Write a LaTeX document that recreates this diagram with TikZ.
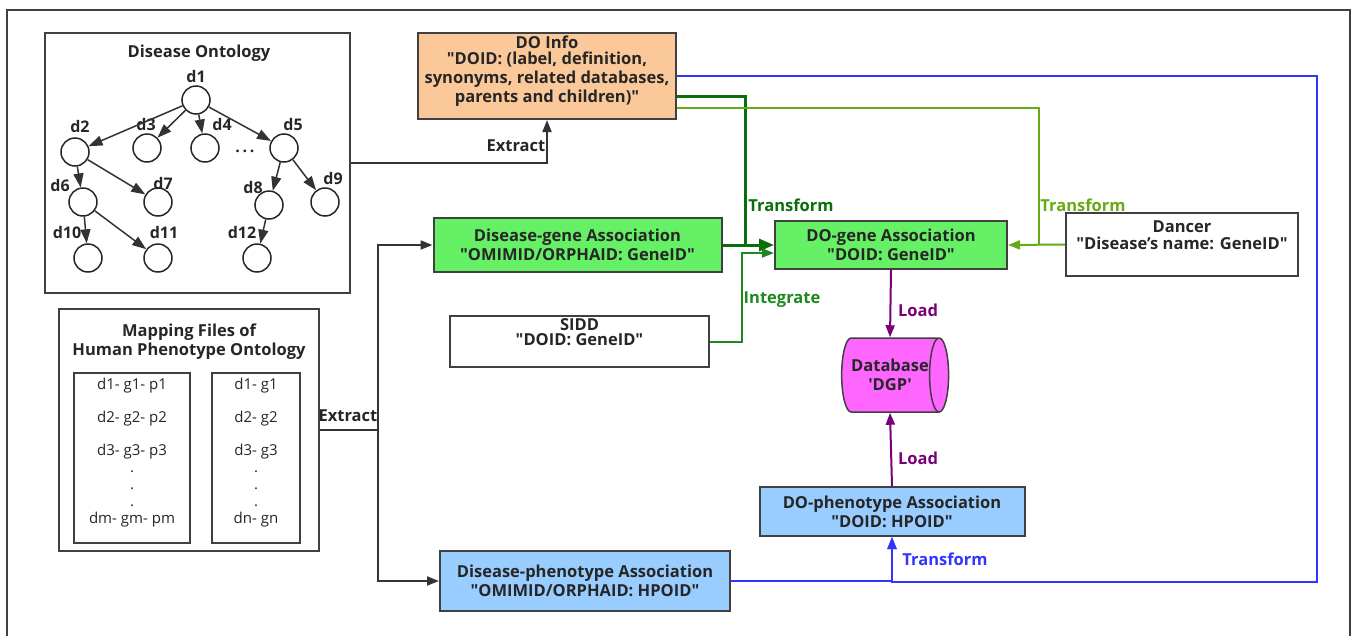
\documentclass[tikz,border=0pt]{standalone}
\usepackage{fontspec}
\setmainfont{Open Sans}
\usetikzlibrary{arrows.meta,shapes.geometric}

\definecolor{peach}{RGB}{251,200,154}
\definecolor{lgreen}{RGB}{102,240,102}
\definecolor{lblue}{RGB}{153,204,255}
\definecolor{magen}{RGB}{255,102,255}
\definecolor{dgreen}{RGB}{10,110,10}
\definecolor{mgreen}{RGB}{30,135,30}
\definecolor{ygreen}{RGB}{102,170,20}
\definecolor{ublue}{RGB}{51,51,255}
\definecolor{purp}{RGB}{120,0,120}
\definecolor{edge}{RGB}{64,64,64}

\newcommand{\qq}{\textquotedbl}
\newcommand{\qs}{\textquotesingle}

\tikzset{
  every node/.style={font=\bfseries\fontsize{16.5}{19}\selectfont, text=black!85},
  box/.style={draw=edge, line width=2, align=center, inner sep=0},
  circ/.style={draw=black!85, circle, line width=1.5, minimum size=28, inner sep=0},
  lab/.style={font=\bfseries\fontsize{16}{18}\selectfont},
  rows/.style={font=\fontsize{15}{17}\selectfont, align=center, inner sep=0, anchor=north},
  blk/.style={draw=black!80, line width=1.8}
}

\begin{document}
\begin{tikzpicture}[x=1pt,y=-1pt,>={Triangle[length=12pt,width=9pt]}]
\useasboundingbox (0,0) rectangle (1357,635);
\draw[edge, line width=1.5] (7,650) -- (7,10) -- (1350,10) -- (1350,650);

% disease ontology tree
\node[box, minimum width=305, minimum height=260] (onto) at (197.5,163) {};
\node (ontotitle) at (199,53) {Disease Ontology};
\foreach \n/\x/\y/\lx/\ly in {1/196/100/196/76, 2/75/152/80/126, 3/147/148/146/124,
  4/205/148/222/124, 5/284/148/293/124, 6/83/202/60/185, 7/158/202/163/183,
  8/269/205/253/187, 9/325/202/333/178, 10/88/258/67/232, 11/158/258/164/232,
  12/257/258/242/232}
{
  \node[circ] (d\n) at (\x,\y) {};
  \node[lab] (l\n) at (\lx,\ly) {d\n};
}
\node[lab] (dots) at (245,151) {.\,.\,.};
\foreach \a/\b in {1/2,1/3,1/4,1/5,2/6,2/7,5/8,5/9,6/10,6/11,8/12}
  \draw[-{Triangle[length=14pt,width=10pt]}, blk, line width=1.5] (d\a) -- (d\b);

% mapping files
\node[box, minimum width=260, minimum height=242] (map) at (189,430) {};
\node[align=center] (maptitle) at (189,342) {Mapping Files of\\Human Phenotype Ontology};
\node[box, line width=1.5, minimum width=116, minimum height=170] (mapL) at (132,458) {};
\node[box, line width=1.5, minimum width=88, minimum height=170] (mapR) at (256,458) {};
\node[rows] (rowsL) at (132,378) {d1- g1- p1\\[16pt]d2- g2- p2\\[16pt]d3- g3- p3\\.\\.\\.\\dm- gm- pm};
\node[rows] (rowsR) at (256,378) {d1- g1\\[16pt]d2- g2\\[16pt]d3- g3\\.\\.\\.\\dn- gn};

% boxes
\node[box, fill=peach, minimum width=258, minimum height=86, text depth=14pt] (doinfo) at (547,76)
  {DO Info\\[-3pt]\qq DOID: (label, definition,\\synonyms, related databases,\\parents and children)\qq};
\node[box, fill=lgreen, minimum width=288, minimum height=54] (disgene) at (577.5,245)
  {Disease-gene Association\\\qq OMIMID/ORPHAID: GeneID\qq};
\node[box, fill=lgreen, minimum width=232, minimum height=48] (dogene) at (891,245)
  {DO-gene Association\\\qq DOID: GeneID\qq};
\node[box, minimum width=232, minimum height=63, text depth=18pt] (dancer) at (1182,244.5)
  {Dancer\\[-2pt]\qq Disease's name: GeneID\qq};
\node[box, minimum width=259, minimum height=51, text depth=18pt] (sidd) at (579.5,341.5)
  {SIDD\\[-4pt]\qq DOID: GeneID\qq};
\node[cylinder, draw=edge, fill=magen, line width=1.5, minimum width=74, minimum height=103,
  aspect=0.6, align=center, inner sep=0] (db) at (890,375) {Database\\\qs DGP\qs};
\node[box, fill=lblue, minimum width=265, minimum height=49] (dopheno) at (892,511.5)
  {DO-phenotype Association\\\qq DOID: HPOID\qq};
\node[box, fill=lblue, minimum width=290, minimum height=60] (dispheno) at (585,581)
  {Disease-phenotype Association\\\qq OMIMID/ORPHAID: HPOID\qq};

% connectors
\coordinate (split) at (378,430);
\coordinate (tjoin) at (745,245);
\coordinate (ijoin) at (742,253);
\coordinate (ljoin) at (1039,245);
\coordinate (bcorner) at (1317,582);

\draw[->, blk] (onto.east) -| (doinfo.south);
\node (ex1) at (516,146) {Extract};
\draw[blk] (map.east) -- (split);
\draw[->, blk] (split) |- (disgene.west);
\draw[->, blk] (split) |- (dispheno.west);
\node (ex2) at (348,416) {Extract};

\draw[dgreen, line width=3] ([yshift=-20pt]doinfo.east) -| (tjoin);
\draw[-{Triangle[length=15pt,width=12pt]}, dgreen, line width=3] (disgene.east) -- (dogene.west);
\node[text=dgreen] (tr1) at (791,205) {Transform};
\draw[->, mgreen, line width=2] (sidd.east) -| (ijoin) -- (ijoin -| dogene.west);
\node[text=mgreen] (integ) at (782,300) {Integrate};

\draw[ygreen, line width=2] ([yshift=-32pt]doinfo.east) -| (ljoin);
\draw[->, ygreen, line width=2] (dancer.west) -- (dogene.east);
\node[text=ygreen] (tr2) at (1083,205) {Transform};

\draw[->, ublue, line width=2] (doinfo.east) -| (bcorner) -| (dopheno.south);
\draw[->, ublue, line width=2] (dispheno.east) -| (dopheno.south);
\node[text=ublue] (tr3) at (945,559) {Transform};

\draw[->, purp, line width=2] (dogene.south) -- (db.north);
\draw[->, purp, line width=2] (dopheno.north) -- (db.south);
\node[text=purp] (load1) at (918,310) {Load};
\node[text=purp] (load2) at (918,458) {Load};
\end{tikzpicture}
\end{document}
